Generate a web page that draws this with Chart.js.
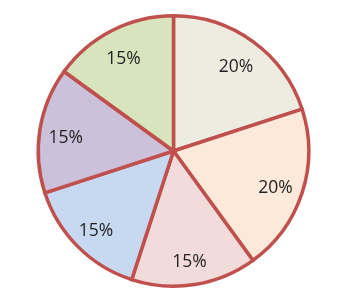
<!DOCTYPE html>
<html><head><meta charset="utf-8">
<script src="https://cdn.jsdelivr.net/npm/chart.js@4"></script>
<style>html,body{margin:0;padding:0;background:#fff}#wrap{width:349px;height:302px}</style>
</head><body><div id="wrap"><canvas id="c" width="349" height="302"></canvas></div>
<script>
const categories = ["A", "B", "C", "D", "E", "F"];
const values = [20, 20, 15, 15, 15, 15];
const labels = ["20%", "20%", "15%", "15%", "15%", "15%"];
const colors = ["#EEECE1", "#FDE9D9", "#F2DCDB", "#C6D9F1", "#CCC1DA", "#D7E4BD"];

const labelPlugin = {
  id: 'sliceLabels',
  afterDatasetsDraw(chart) {
    const ctx = chart.ctx;
    const meta = chart.getDatasetMeta(0);
    ctx.save();
    ctx.font = '17.5px "Open Sans", "Liberation Sans", sans-serif';
    ctx.fillStyle = '#1f1f1f';
    ctx.textAlign = 'center';
    ctx.textBaseline = 'middle';
    meta.data.forEach((arc, i) => {
      const p = arc.getProps(['x','y','startAngle','endAngle','outerRadius'], true);
      const mid = (p.startAngle + p.endAngle) / 2;
      const r = p.outerRadius * 0.8;
      ctx.fillText(labels[i], p.x + Math.cos(mid) * r - 1, p.y + Math.sin(mid) * r + 4);
    });
    ctx.restore();
  }
};

new Chart(document.getElementById('c'), {
  type: 'pie',
  data: {
    labels: categories,
    datasets: [{
      data: values,
      backgroundColor: colors,
      borderColor: '#C0504D',
      borderWidth: 3.5,
      borderJoinStyle: 'miter'
    }]
  },
  options: {
    responsive: false,
    animation: false,
    devicePixelRatio: 1,
    layout: { padding: { left: 0, right: 2, top: 14, bottom: 14 } },
    plugins: { legend: { display: false }, tooltip: { enabled: false } }
  },
  plugins: [labelPlugin]
});
</script>
</body></html>
